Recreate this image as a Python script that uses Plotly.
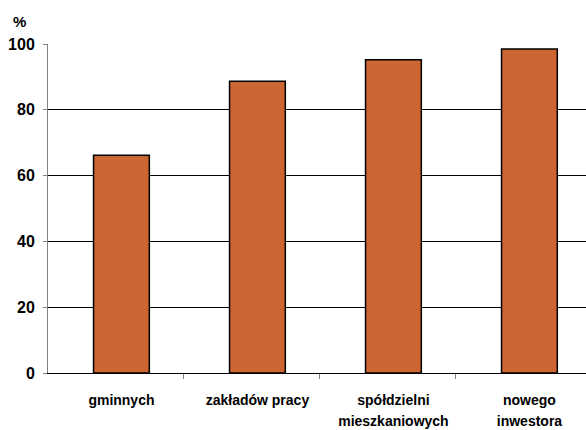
import plotly.graph_objects as go

categories_line1 = ["gminnych", "zakładów pracy", "spółdzielni", "nowego"]
categories_line2 = ["", "", "mieszkaniowych", "inwestora"]
values = [66.2, 88.7, 95.2, 98.5]
y_ticks = [0, 20, 40, 60, 80, 100]

positions = list(range(len(values)))
boundaries = [p + 0.455 for p in positions[:-1]]

W, H = 586, 430
L, R, T, B = 48, 0, 44, 57
xr = [-0.54, 3.416]
FONT = "Liberation Sans, Arial, sans-serif"

fig = go.Figure()
fig.add_bar(
    x=positions, y=values, width=0.41,
    marker=dict(color="#CC6633", line=dict(color="black", width=1.5)),
    hoverinfo="skip",
)
# dummy invisible traces so overlay axes render
for ax in ["x2", "x3"]:
    fig.add_scatter(x=positions, y=values, xaxis=ax, mode="markers",
                    marker=dict(opacity=0), hoverinfo="skip", showlegend=False)

fig.update_layout(
    width=W, height=H,
    margin=dict(l=L, r=R, t=T, b=B),
    plot_bgcolor="white", paper_bgcolor="white",
    showlegend=False,
    font=dict(family=FONT, color="black"),
    xaxis=dict(
        range=xr, tickvals=positions, ticktext=categories_line1,
        showline=True, linecolor="black", linewidth=1,
        showgrid=False, zeroline=False, ticks="",
        tickfont=dict(size=14, weight="bold", family=FONT),
        ticklabelstandoff=14,
    ),
    xaxis2=dict(
        range=xr, overlaying="x", anchor="y", side="bottom",
        tickvals=boundaries, ticktext=["" for _ in boundaries],
        ticks="outside", ticklen=5, tickcolor="#808080", tickwidth=1,
        showgrid=False, zeroline=False, showline=False,
    ),
    xaxis3=dict(
        range=xr, overlaying="x", anchor="y", side="bottom",
        tickvals=positions, ticktext=categories_line2,
        ticks="", showgrid=False, zeroline=False, showline=False,
        tickfont=dict(size=14, weight="bold", family=FONT),
        ticklabelstandoff=38,
    ),
    yaxis=dict(
        range=[0, 100], tickvals=y_ticks,
        showgrid=True, gridcolor="black", gridwidth=1,
        showline=True, linecolor="#808080", linewidth=1,
        zeroline=False,
        ticks="outside", ticklen=4, tickcolor="#808080",
        tickfont=dict(size=16, weight="bold", family=FONT),
        ticklabelstandoff=5,
    ),
    annotations=[dict(
        text="%", xref="paper", yref="paper",
        x=(19 - L) / (W - L - R), y=(H - B - 22) / (H - T - B),
        xanchor="center", yanchor="middle", showarrow=False,
        font=dict(size=15, weight="bold", family=FONT),
    )],
)

fig.write_html("out.html")
